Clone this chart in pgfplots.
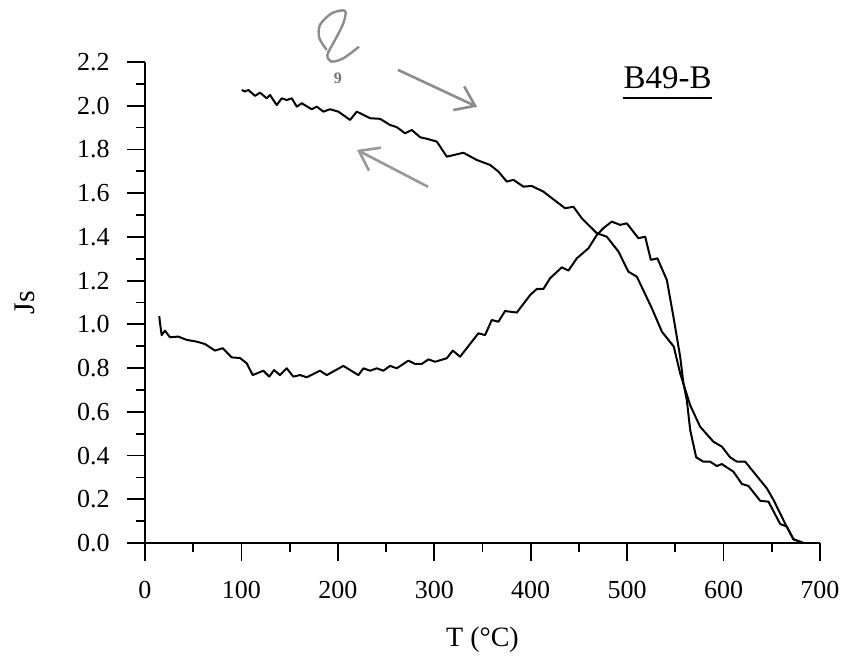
\documentclass[border=0pt]{standalone}
\usepackage{fontspec}
\setmainfont{Liberation Serif}
\usepackage{pgfplots}
\pgfplotsset{compat=1.18}
\usetikzlibrary{arrows.meta}

\begin{document}
\begin{tikzpicture}
\useasboundingbox (-72.5pt,-58pt) rectangle (348.5pt,271.5pt);
\begin{axis}[
  at={(0,0)}, anchor=south west,
  scale only axis, width=337.5pt, height=240.5pt,
  xmin=0, xmax=700, ymin=0, ymax=2.2,
  clip=false,
  axis lines=left, axis line style={-, line width=0.9pt},
  tick align=outside, tick style={line width=0.9pt, black},
  major tick length=9pt, minor tick length=4.5pt,
  xtick={0,100,200,300,400,500,600,700},
  minor xtick={50,150,250,350,450,550,650},
  ytick={0,0.2,0.4,0.6,0.8,1.0,1.2,1.4,1.6,1.8,2.0,2.2},
  minor ytick={0.1,0.3,0.5,0.7,0.9,1.1,1.3,1.5,1.7,1.9,2.1},
  /pgf/number format/assume math mode=true,
  tick label style={font=\fontsize{13}{15.5}\selectfont},
  xticklabel style={yshift=-6.7pt},
  yticklabel style={xshift=-5.2pt, /pgf/number format/fixed, /pgf/number format/fixed zerofill, /pgf/number format/precision=1},
]
\addplot[black, line width=1pt, line join=round] table {
T J
14.8 1.038
15.6 1.005
17.3 0.951
20.7 0.971
25.9 0.941
34.5 0.944
43.3 0.929
53.6 0.921
62.2 0.910
72.6 0.880
80.6 0.891
89.9 0.849
98.5 0.846
105.5 0.822
111.7 0.768
122.7 0.788
128.9 0.761
133.8 0.791
140.0 0.768
147.0 0.799
153.8 0.761
160.8 0.768
167.7 0.758
181.5 0.788
188.5 0.768
205.7 0.810
221.3 0.768
226.5 0.799
233.4 0.788
240.4 0.799
247.2 0.788
254.1 0.810
261.1 0.799
273.1 0.834
280.1 0.819
287.0 0.819
293.9 0.840
300.8 0.829
313.0 0.845
319.2 0.880
326.8 0.852
345.7 0.959
352.7 0.951
359.6 1.020
366.5 1.012
373.4 1.061
385.6 1.054
399.4 1.134
406.3 1.162
413.2 1.162
420.1 1.211
432.3 1.261
439.1 1.246
447.8 1.302
459.9 1.348
468.6 1.409
475.4 1.440
484.1 1.470
492.7 1.455
499.7 1.462
511.7 1.394
518.7 1.401
524.6 1.295
531.4 1.302
541.2 1.203
548.0 1.035
555.0 0.852
558.4 0.731
561.9 0.654
565.4 0.517
571.6 0.392
579.1 0.372
586.1 0.372
593.0 0.352
598.2 0.361
610.3 0.326
619.0 0.270
625.8 0.261
638.0 0.193
646.6 0.189
658.7 0.087
665.7 0.075
672.5 0.017
682.9 0.000
};
\addplot[black, line width=1pt, line join=round] table {
T J
100.3 2.072
103.7 2.065
107.2 2.072
114.1 2.045
119.3 2.060
126.2 2.034
129.7 2.049
136.6 2.003
141.8 2.034
147.0 2.026
152.2 2.034
157.4 1.996
162.6 2.011
172.9 1.984
178.1 1.996
185.0 1.973
191.9 1.984
200.5 1.973
212.7 1.935
219.6 1.973
233.4 1.943
243.8 1.940
254.1 1.912
261.1 1.902
269.7 1.874
276.7 1.889
285.3 1.856
293.9 1.847
302.6 1.836
313.0 1.767
330.2 1.785
344.1 1.752
357.9 1.729
366.5 1.699
375.2 1.653
382.1 1.661
392.4 1.630
401.1 1.633
413.2 1.607
423.5 1.572
435.7 1.531
444.3 1.538
453.0 1.485
468.6 1.417
478.9 1.401
491.0 1.333
501.3 1.241
510.1 1.218
525.6 1.074
536.0 0.967
548.4 0.898
555.0 0.776
565.4 0.630
575.7 0.532
589.5 0.463
598.2 0.441
606.8 0.392
613.8 0.372
622.4 0.372
644.9 0.250
651.8 0.197
666.3 0.067
672.5 0.017
682.9 0.000
};
% axis labels
\node[anchor=base, font=\fontsize{14}{16}\selectfont] at (axis description cs:0.5,-0.216) {T (°C)};
\node[rotate=90, font=\fontsize{15}{18}\selectfont] at (axis description cs:-0.178,0.5) {Js};
% sample label
\node[anchor=base, inner sep=0pt, font=\fontsize{16.5}{19}\selectfont] (lbl) at (axis cs:542,2.081) {B49-B};
\draw[line width=0.9pt] ([yshift=-5pt]lbl.base west) -- ([yshift=-5pt]lbl.base east);
% hand-drawn pencil annotations
\draw[black!45, line width=1.3pt, -{Straight Barb[length=9pt,width=13pt]}] (axis cs:262.4,2.164) -- (axis cs:344.4,1.995);
\draw[black!40, line width=1.3pt, -{Straight Barb[length=9pt,width=13pt]}] (axis cs:293.6,1.629) -- (axis cs:219.9,1.798);
\draw[black!45, line width=1.2pt] plot[smooth] coordinates {(axis cs:188.5,2.255) (axis cs:180.8,2.309) (axis cs:181.5,2.370) (axis cs:193.7,2.423) (axis cs:207.5,2.434) (axis cs:205.7,2.377) (axis cs:197.1,2.301) (axis cs:189.1,2.232) (axis cs:193.7,2.202) (axis cs:205.7,2.217) (axis cs:222,2.270)};
\node[text=black!55, font=\fontsize{8}{9}\selectfont\bfseries] at (axis cs:200,2.127) {9};
\end{axis}
\end{tikzpicture}
\end{document}
